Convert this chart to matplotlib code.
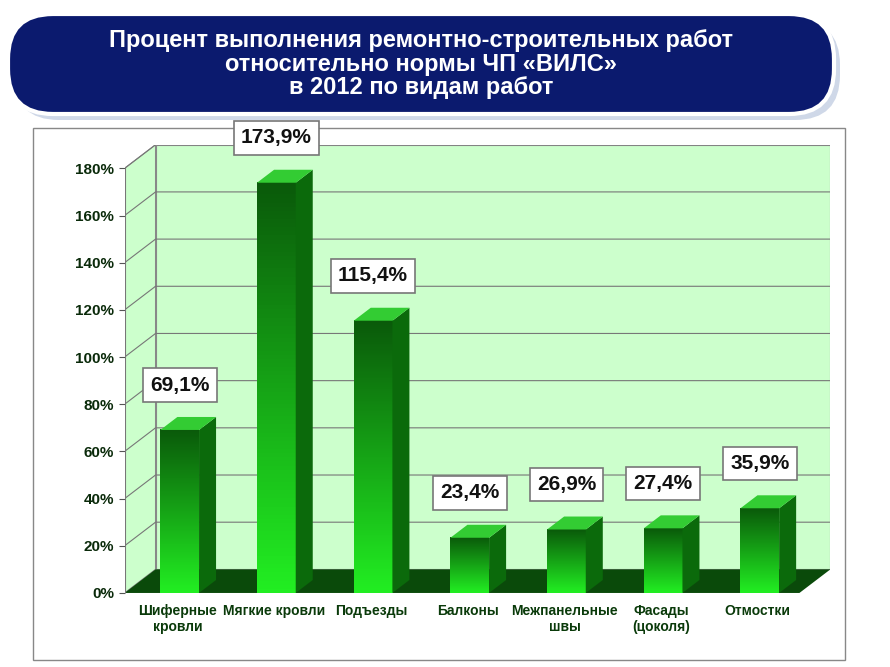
import matplotlib.pyplot as plt
import numpy as np
from matplotlib.colors import LinearSegmentedColormap
from matplotlib.patches import FancyBboxPatch, Polygon

categories = ["Шиферные\nкровли", "Мягкие кровли", "Подъезды", "Балконы",
              "Межпанельные\nшвы", "Фасады\n(цоколя)", "Отмостки"]
values = [69.1, 173.9, 115.4, 23.4, 26.9, 27.4, 35.9]
labels = ["69,1%", "173,9%", "115,4%", "23,4%", "26,9%", "27,4%", "35,9%"]
yticks = [0, 20, 40, 60, 80, 100, 120, 140, 160, 180]

plt.rcParams["font.family"] = "Liberation Sans"
fig = plt.figure(figsize=(8.9, 6.67), dpi=100)

# title banner
bax = fig.add_axes([0, 0, 1, 1])
bax.set_xlim(0, 890); bax.set_ylim(667, 0); bax.axis("off")
bax.add_patch(FancyBboxPatch((14, 20), 826, 100, boxstyle="round,pad=0,rounding_size=45",
                             fc="#cfd8e8", ec="none"))
bax.add_patch(FancyBboxPatch((8, 14), 826, 100, boxstyle="round,pad=0,rounding_size=45",
                             fc="#0b1a6e", ec="white", lw=3))
bax.text(421, 64, "Процент выполнения ремонтно-строительных работ\nотносительно нормы ЧП «ВИЛС»\nв 2012 по видам работ",
         ha="center", va="center", color="white", fontsize=17, fontweight="bold", linespacing=1.05)
bax.add_patch(plt.Rectangle((33, 128), 812, 532, fc="white", ec="#888888", lw=1))

ax = fig.add_axes([0.14, 0.111, 0.793, 0.672])
ax.set_facecolor("none")
for s in ax.spines.values():
    s.set_visible(False)

dx, dy = 0.32, 10
x0, x1 = -0.55, 6.75
# back wall, side wall, floor
ax.add_patch(Polygon([[x0 + dx, dy], [x1, dy], [x1, 190], [x0 + dx, 190]], fc="#ccffcc", ec="#888888", lw=0.8, zorder=0))
ax.add_patch(Polygon([[x0, 0], [x0 + dx, dy], [x0 + dx, 190], [x0, 180]], fc="#ccffcc", ec="#888888", lw=0.8, zorder=0))
ax.add_patch(Polygon([[x0, 0], [x1 - dx, 0], [x1, dy], [x0 + dx, dy]], fc="#0a4a0a", ec="none", zorder=1))
for t in yticks[1:]:
    ax.plot([x0, x0 + dx, x1], [t, t + dy, t + dy], color="#777777", lw=0.8, zorder=0.5)
ax.plot([x0, x0], [0, 180], color="#777777", lw=0.8)

grad = np.linspace(0, 1, 100).reshape(-1, 1)
cmap = LinearSegmentedColormap.from_list("g", ["#22ee22", "#0a5a0a"])
w = 0.2
for i, v in enumerate(values):
    xa, xb = i - w + 0.02, i + w + 0.02
    ax.imshow(grad, extent=(xa, xb, 0, v), aspect="auto", cmap=cmap, zorder=2, origin="lower")
    ax.add_patch(Polygon([[xb, 0], [xb + dx * 0.55, dy * 0.55], [xb + dx * 0.55, v + dy * 0.55], [xb, v]],
                         fc="#0b6a0b", ec="none", zorder=2))
    ax.add_patch(Polygon([[xa, v], [xb, v], [xb + dx * 0.55, v + dy * 0.55], [xa + dx * 0.55, v + dy * 0.55]],
                         fc="#33cc33", ec="none", zorder=2))
    ax.text(i + 0.02, v + dy + 9, labels[i], ha="center", va="center", fontsize=15, fontweight="bold",
            color="#111111", zorder=4,
            bbox=dict(boxstyle="square,pad=0.35", fc="white", ec="#777777", lw=1.2))
ax.set_xlim(-0.55, 6.75)
ax.set_ylim(0, 190)

ax.set_yticks(yticks)
ax.set_yticklabels([f"{t}%" for t in yticks], fontsize=11, fontweight="bold", color="#0a2a0a")
ax.set_xticks(range(len(categories)))
ax.set_xticklabels(categories, fontsize=10, fontweight="bold", color="#0a3a0a", va="top")
ax.tick_params(axis="x", length=0, pad=8)
ax.tick_params(axis="y", length=4, color="#555555")

fig.savefig("out.png", dpi=100)
